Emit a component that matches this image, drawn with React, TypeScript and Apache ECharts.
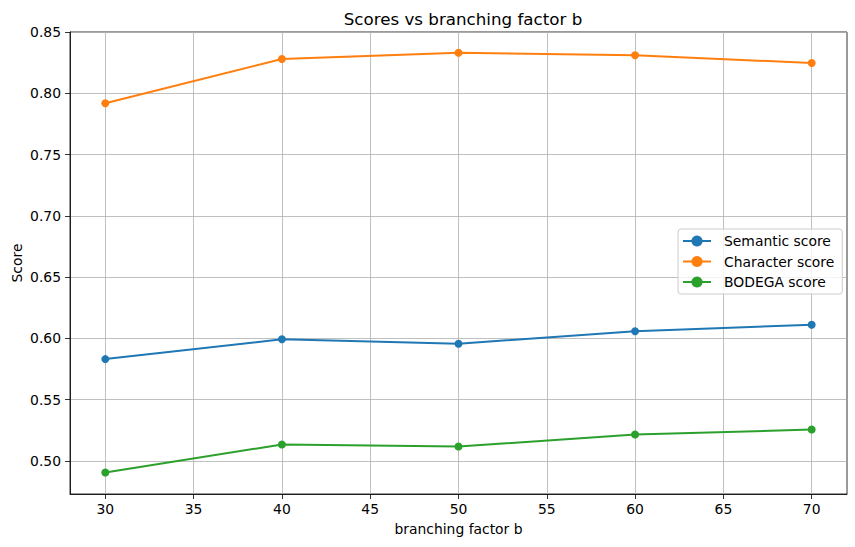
import React, { useEffect, useRef } from "react";
import * as echarts from "echarts";

const bValues = [30, 40, 50, 60, 70];
const semanticScore = [0.583, 0.5992, 0.5955, 0.6058, 0.611];
const characterScore = [0.7918, 0.828, 0.833, 0.831, 0.8247];
const bodegaScore = [0.4905, 0.5133, 0.5117, 0.5214, 0.5255];
const xTicks = [30, 35, 40, 45, 50, 55, 60, 65, 70];
const yTicks = [0.5, 0.55, 0.6, 0.65, 0.7, 0.75, 0.8, 0.85];
const seriesNames = ["Semantic score", "Character score", "BODEGA score"];
const seriesColors = ["#1f77b4", "#ff7f0e", "#2ca02c"];

const FONT = "DejaVu Sans";

export default function App() {
  const ref = useRef<HTMLDivElement>(null);
  useEffect(() => {
    if (!ref.current) return;
    const chart = echarts.init(ref.current, null, { renderer: "svg" });
    const allData = [semanticScore, characterScore, bodegaScore];
    const series = allData.map((vals, i) => ({
      name: seriesNames[i],
      type: "line",
      data: bValues.map((b, j) => [b, vals[j]]),
      symbol: "circle",
      symbolSize: 8,
      showSymbol: true,
      lineStyle: { width: 2, color: seriesColors[i] },
      itemStyle: { color: seriesColors[i] },
      z: 3,
    }));
    const axisCommon = {
      axisLine: { show: true, onZero: false, lineStyle: { color: "#000", width: 0.8 } },
      axisTick: { show: true, inside: false, length: 5, lineStyle: { color: "#000", width: 0.8 } },
      splitLine: { show: true, lineStyle: { color: "#b0b0b0", width: 0.8 } },
      nameTextStyle: { fontFamily: FONT, fontSize: 13.9, color: "#000" },
      nameMoveOverlap: false,
    };
    chart.setOption({
      animation: false,
      backgroundColor: "#fff",
      color: seriesColors,
      title: {
        text: "Scores vs branching factor b",
        left: 458,
        textAlign: "center",
        top: 5,
        textStyle: { fontFamily: FONT, fontSize: 16.7, fontWeight: "normal", color: "#000" },
      },
      grid: {
        left: 70,
        right: 8,
        top: 32,
        bottom: 53,
        containLabel: false,
        outerBoundsMode: "none",
        show: true,
        borderColor: "#000",
        borderWidth: 0.8,
        backgroundColor: "transparent",
      },
      legend: {
        data: seriesNames,
        orient: "vertical",
        left: 678,
        top: 229,
        itemWidth: 28,
        itemHeight: 14,
        itemGap: 6.5,
        padding: [5, 8, 5, 4],
        borderColor: "#cccccc",
        borderWidth: 1,
        borderRadius: 3,
        backgroundColor: "rgba(255,255,255,0.8)",
        textStyle: { fontFamily: FONT, fontSize: 13.9, color: "#000", padding: [0, 0, 0, 8] },
      },
      xAxis: {
        ...axisCommon,
        type: "value",
        min: 28,
        max: 72,
        name: "branching factor b",
        nameLocation: "middle",
        nameGap: 28,
        axisTick: { ...axisCommon.axisTick, customValues: xTicks },
        axisLabel: { customValues: xTicks, fontFamily: FONT, fontSize: 13.9, color: "#000", margin: 8 },
      },
      yAxis: {
        ...axisCommon,
        type: "value",
        min: 0.4729,
        max: 0.85,
        name: "Score",
        nameLocation: "middle",
        nameGap: 46,
        axisTick: { ...axisCommon.axisTick, customValues: yTicks },
        axisLabel: {
          customValues: yTicks,
          fontFamily: FONT,
          fontSize: 13.9,
          color: "#000",
          margin: 9,
          formatter: (v: number) => v.toFixed(2),
        },
      },
      series,
    });
    return () => chart.dispose();
  }, []);
  return <div ref={ref} style={{ position: "fixed", left: 0, top: 0, width: 855, height: 547 }} />;
}
